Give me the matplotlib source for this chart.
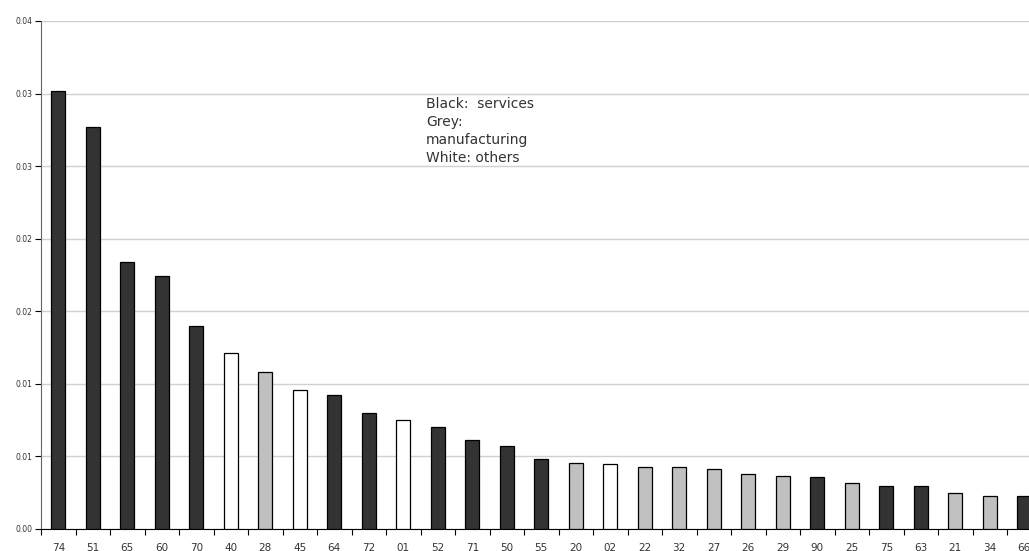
import matplotlib
matplotlib.use("Agg")
import matplotlib.pyplot as plt

# sector codes, sorted by value
sectors = ['74', '51', '65', '60', '70', '40', '28', '45', '64', '72', '01', '52', '71', '50', '55',
           '20', '02', '22', '32', '27', '26', '29', '90', '25', '75', '63', '21', '34', '66']
values = [0.0302, 0.0277, 0.0184, 0.0174, 0.0140, 0.0121, 0.0108, 0.0096, 0.0092, 0.0080,
          0.0075, 0.0070, 0.0061, 0.0057, 0.0048, 0.00455, 0.00448, 0.00429, 0.00424, 0.00415,
          0.00379, 0.00362, 0.00358, 0.00319, 0.00298, 0.00293, 0.0025, 0.00227, 0.00225]
# S = services, M = manufacturing, O = others
groups = ['S', 'S', 'S', 'S', 'S', 'O', 'M', 'O', 'S', 'S', 'O', 'S', 'S', 'S', 'S',
          'M', 'O', 'M', 'M', 'M', 'M', 'M', 'S', 'M', 'S', 'S', 'M', 'M', 'S']
yticks = [0.0, 0.005, 0.01, 0.015, 0.02, 0.025, 0.03, 0.035]
ytick_labels = ['0.00', '0.01', '0.01', '0.02', '0.02', '0.03', '0.03', '0.04']

group_colors = {'S': '#333333', 'M': '#c0c0c0', 'O': '#ffffff'}

fig = plt.figure(figsize=(10.29, 5.51), dpi=100)
ax = fig.add_axes([41 / 1029, 22 / 551, 1000.5 / 1029, 508 / 551])

x = list(range(len(sectors)))
ax.bar(x, values, width=0.42, color=[group_colors[g] for g in groups],
       edgecolor='black', linewidth=0.9, zorder=3)

ax.set_xlim(-0.5, len(sectors) - 0.5)
ax.set_ylim(0, 0.035)
ax.set_yticks(yticks)
ax.set_yticklabels(ytick_labels, fontsize=5.5, color='#333333')
ax.yaxis.grid(True, color='#d0d0d0', linewidth=1, zorder=0)
ax.set_axisbelow(True)

# tick marks between categories, labels at bar centres
ax.set_xticks([i + 0.5 for i in x[:-1]] + [-0.5])
ax.set_xticklabels([])
ax.set_xticks(x, minor=True)
ax.set_xticklabels(sectors, minor=True, fontsize=7.5, color='#333333')
ax.tick_params(axis='x', which='minor', length=0, pad=10)
ax.tick_params(axis='x', which='major', length=4, direction='out', color='black')
ax.tick_params(axis='y', length=4, direction='out', pad=2, color='black')

for side in ['top', 'right']:
    ax.spines[side].set_visible(False)
ax.spines['left'].set_color('#666666')
ax.spines['bottom'].set_color('black')

ax.text(426, 454, 'Black:  services\nGrey:\nmanufacturing\nWhite: others',
        transform=None, fontsize=10, va='top', ha='left', linespacing=1.35,
        color='#333333')

fig.savefig('out.png', dpi=100)
